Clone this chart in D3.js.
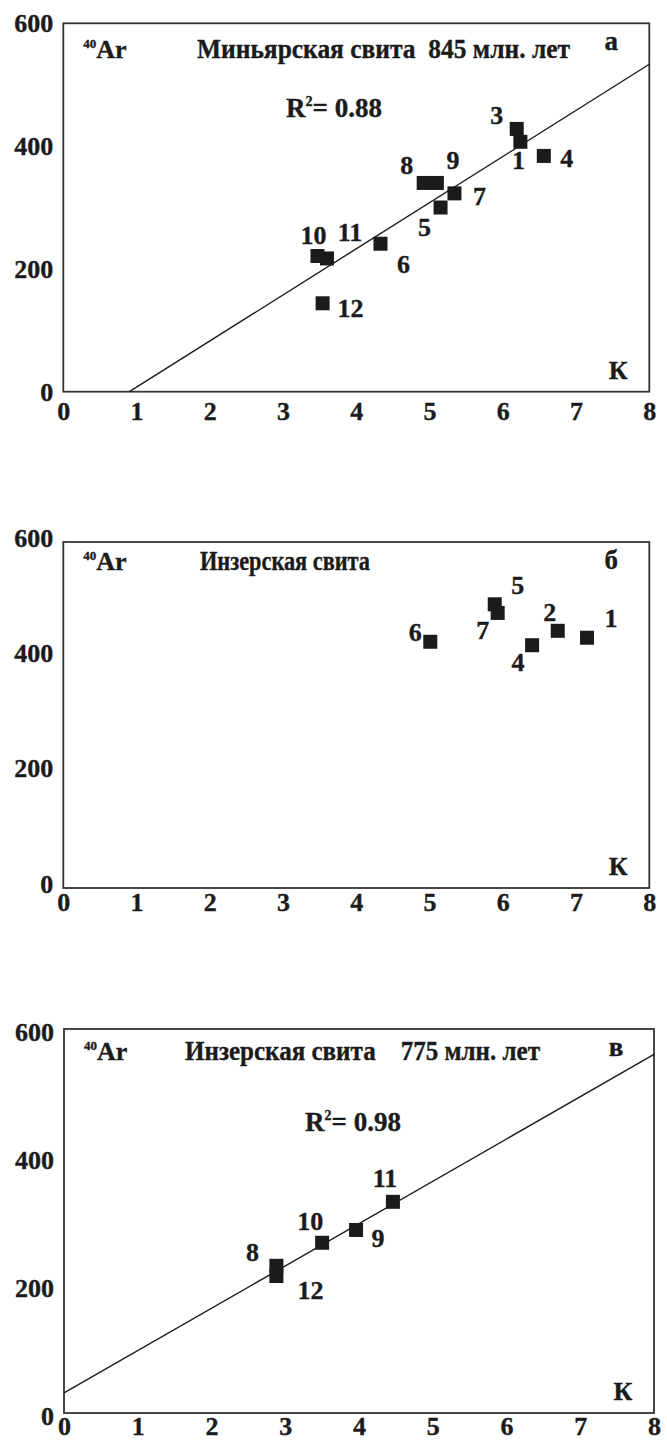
<!DOCTYPE html>
<html><head><meta charset="utf-8">
<script src="https://cdn.jsdelivr.net/npm/d3@7"></script>
<style>
  body { margin: 0; background: #fff; }
  svg text { font-family: "Liberation Serif", "Times New Roman", serif; font-weight: bold;
             fill: #1b1b1b; stroke: #1b1b1b; stroke-width: 0.35px; white-space: pre; }
</style>
</head><body>
<svg id="chart" width="667" height="1441"></svg>
<script>
// Shared axis ticks
const kTicks = [0, 1, 2, 3, 4, 5, 6, 7, 8];
const arTicks = [0, 200, 400, 600];

// Panel а — Миньярская свита
const labelsA = ["1", "3", "4", "5", "6", "7", "8", "9", "10", "11", "12"];
const kA  = [6.24, 6.19, 6.56, 5.15, 4.33, 5.34, 4.92, 5.10, 3.47, 3.60, 3.54];
const arA = [407, 428, 384, 300, 241, 323, 340, 340, 221, 217, 144];
const r2A = "0.88";

// Panel б — Инзерская свита
const labelsB = ["1", "2", "4", "5", "6", "7"];
const kB  = [7.15, 6.75, 6.40, 5.89, 5.01, 5.93];
const arB = [434, 446, 421, 492, 427, 477];

// Panel в — Инзерская свита, 775 млн. лет
const labelsC = ["8", "9", "10", "11", "12"];
const kC  = [2.88, 3.96, 3.50, 4.46, 2.88];
const arC = [230, 286, 266, 330, 214];
const r2C = "0.98";

// Where each point number sits relative to its square (px)
const offsetsA = [[-2,18],[-20,-14],[23,2],[-16,19],[23,20],[25,3],[-17,-18],[16,-23],[-4,-21],[23,-27],[28,5]];
const offsetsB = [[24,-20],[-8,-19],[-14,17],[23,-19],[-15,-10],[-15,17]];
const offsetsC = [[-24,-14],[22,8],[-12,-22],[-8,-24],[34,14]];

const svg = d3.select("#chart");
const INK = "#1b1b1b";

// least-squares trend line
function fit(xs, ys) {
  const mx = d3.mean(xs), my = d3.mean(ys);
  let sxy = 0, sxx = 0;
  xs.forEach((x, i) => { sxy += (x - mx) * (ys[i] - my); sxx += (x - mx) * (x - mx); });
  const slope = sxy / sxx;
  return { slope, intercept: my - slope * mx };
}

function styleTicks(a) {
  a.select(".domain").remove();
  a.selectAll("text").attr("font-size", 26).attr("fill", INK)
    .style("font-family", '"Liberation Serif", serif').style("font-weight", "bold");
}

function drawPanel(p) {
  const x = d3.scaleLinear().domain([0, 8]).range([p.left, p.right]);
  const y = d3.scaleLinear().domain([0, 600]).range([p.bottom, p.top]);
  const g = svg.append("g");

  // y tick labels
  g.append("g")
    .attr("transform", `translate(${p.left},${p.yLabelShift})`)
    .call(d3.axisLeft(y).tickValues(arTicks).tickSize(0).tickPadding(10))
    .call(styleTicks);

  // x tick labels
  g.append("g")
    .attr("transform", `translate(0,${p.bottom})`)
    .call(d3.axisBottom(x).tickValues(kTicks).tickSize(0).tickPadding(p.xPad))
    .call(styleTicks);

  // frame
  g.append("rect")
    .attr("x", p.left).attr("y", p.top)
    .attr("width", p.right - p.left).attr("height", p.bottom - p.top)
    .attr("fill", "none").attr("stroke", "#333").attr("stroke-width", 1.8);

  // trend line
  if (p.fitLine) {
    const f = fit(p.k, p.ar);
    const k0 = Math.max(0, -f.intercept / f.slope);
    const pts = [k0, 8].map(k => [x(k), y(f.intercept + f.slope * k)]);
    g.append("path").attr("d", d3.line()(pts))
      .attr("fill", "none").attr("stroke", INK).attr("stroke-width", 1.4);
  }

  // squares
  const s = 14;
  g.selectAll("rect.pt").data(p.k).join("rect").attr("class", "pt")
    .attr("x", d => x(d) - s / 2)
    .attr("y", (d, i) => y(p.ar[i]) - s / 2)
    .attr("width", s).attr("height", s).attr("fill", INK);

  // point numbers
  g.selectAll("text.num").data(p.labels).join("text").attr("class", "num")
    .attr("x", (d, i) => x(p.k[i]) + p.offsets[i][0])
    .attr("y", (d, i) => y(p.ar[i]) + p.offsets[i][1])
    .attr("dy", "0.35em").attr("text-anchor", "middle")
    .attr("font-size", 26).text(d => d);

  // 40Ar
  const ar = g.append("text").attr("x", p.left + 20).attr("y", p.top + p.titleDy);
  ar.append("tspan").attr("font-size", 13).attr("dy", -10).text("40");
  ar.append("tspan").attr("font-size", 26).attr("dy", 10).text("Ar");

  // title
  g.append("text").attr("x", p.titleX).attr("y", p.top + p.titleDy)
    .attr("font-size", 27).attr("textLength", p.titleW).attr("lengthAdjust", "spacingAndGlyphs")
    .text(p.title);

  // panel letter
  g.append("text").attr("x", p.right - 38).attr("y", p.top + p.letterDy)
    .attr("font-size", 27).attr("text-anchor", "middle").text(p.letter);

  // K axis name
  g.append("text").attr("x", p.right - 31).attr("y", p.bottom - 13)
    .attr("font-size", 26).attr("text-anchor", "middle").text("К");

  // R²
  if (p.r2) {
    const t = g.append("text").attr("x", p.r2x).attr("y", p.r2y).attr("font-size", 27);
    t.append("tspan").text("R");
    t.append("tspan").attr("font-size", 14).attr("dy", -11).text("2");
    t.append("tspan").attr("dy", 11).text("= " + p.r2);
  }
}

drawPanel({
  left: 63.3, right: 649.3, top: 23.3, bottom: 391.7, xPad: 10, yLabelShift: 0,
  k: kA, ar: arA, labels: labelsA, offsets: offsetsA, fitLine: true,
  title: "Миньярская свита  845 млн. лет", titleX: 197, titleW: 373, titleDy: 35, letterDy: 27,
  letter: "а", r2: r2A, r2x: 286, r2y: 117
});

drawPanel({
  left: 63.3, right: 649.3, top: 542, bottom: 888, xPad: 5, yLabelShift: -4,
  k: kB, ar: arB, labels: labelsB, offsets: offsetsB, fitLine: false,
  title: "Инзерская свита", titleX: 200, titleW: 170, titleDy: 28, letterDy: 27,
  letter: "б"
});

drawPanel({
  left: 64, right: 654, top: 1029, bottom: 1413, xPad: 4, yLabelShift: 3,
  k: kC, ar: arC, labels: labelsC, offsets: offsetsC, fitLine: true,
  title: "Инзерская свита    775 млн. лет", titleX: 185, titleW: 355, titleDy: 31, letterDy: 27,
  letter: "в", r2: r2C, r2x: 305, r2y: 1131
});
</script>
</body></html>
